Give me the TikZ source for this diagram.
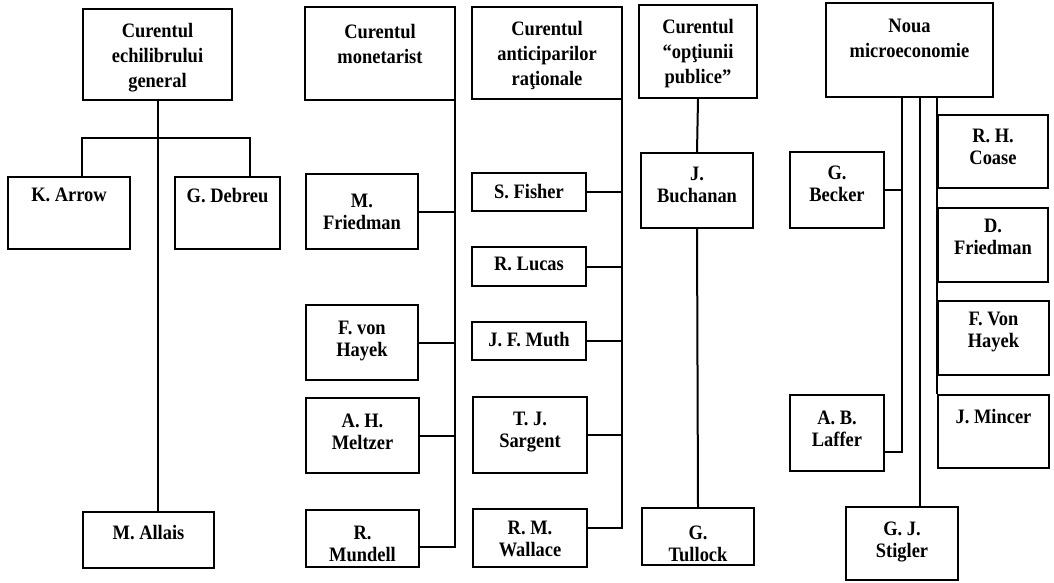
\documentclass[tikz,border=0pt]{standalone}
\usepackage{fontspec}
\newfontfamily\boxfont[FakeStretch=0.9]{Liberation Serif}
\usetikzlibrary{calc}
\tikzset{
  box/.style={draw, line width=1.8pt, inner sep=0pt, fill=white},
  txt/.style={anchor=north, align=center, inner sep=0pt},
  namefont/.style={font=\boxfont\bfseries\fontsize{20.5}{22}\selectfont},
  headfont/.style={font=\boxfont\bfseries\fontsize{20.5}{25}\selectfont},
  conn/.style={draw, line width=2pt},
}
% #1 pad, #2 name, #3 x1, #4 y1, #5 x2, #6 y2, #7 text, #8 font style
\newcommand\bx[8][12]{%
  \node[box, minimum width={(#5-#3)*1pt}, minimum height={(#6-#4)*1pt},
    label={[txt, #8, yshift={-#1pt}]north:#7}] (#2) at ({(#3+#5)/2},{(#4+#6)/2}) {};}
\begin{document}
\begin{tikzpicture}[x=1pt,y=-1pt]
\fill[white] (0,0) rectangle (1054,582);
\useasboundingbox (0,0) rectangle (1054,582);

% column 1
\bx[15]{h1}{83}{9}{232}{100}{Curentul\\echilibrului\\general}{headfont}
\bx[12]{arrow}{8}{177}{130}{249}{K. Arrow}{namefont}
\bx[12]{debreu}{175}{177}{280}{249}{G. Debreu}{namefont}
\bx[14]{allais}{83}{512}{214}{568}{M. Allais}{namefont}
\coordinate (j1) at (250,138);
\path[conn] (h1.south) -- (h1.south |- allais.north);
\path[conn] (arrow.north -| h1.west) |- (j1) -- (j1 |- debreu.north);

% column 2
\bx[18]{h2}{305}{7}{455}{100}{Curentul\\monetarist}{headfont}
\bx[21]{mfriedman}{306}{174}{418}{249}{M.\\Friedman}{namefont}
\bx[17]{fhayek}{306}{305}{418}{380}{F. von\\Hayek}{namefont}
\bx[17]{meltzer}{306}{398}{419}{473}{A. H.\\Meltzer}{namefont}
\bx[17]{mundell}{306}{510}{419}{567}{R.\\Mundell}{namefont}
\coordinate (mu) at ($(mundell.north east)!0.65!(mundell.south east)$);
\path[conn] ([xshift=-1pt]h2.south east) |- (mu);
\path[conn] (mfriedman.east) -- ([xshift=-1pt]mfriedman.east -| h2.east);
\path[conn] (fhayek.east) -- ([xshift=-1pt]fhayek.east -| h2.east);
\path[conn] (meltzer.east) -- ([xshift=-1pt]meltzer.east -| h2.east);

% column 3
\bx[15]{h3}{472}{7}{622}{99}{Curentul\\anticiparilor\\raţionale}{headfont}
\bx[12]{fisher}{472}{173}{586}{211}{S. Fisher}{namefont}
\bx[11]{lucas}{472}{247}{586}{286}{R. Lucas}{namefont}
\bx[11]{muth}{472}{322}{586}{360}{J. F. Muth}{namefont}
\bx[16]{sargent}{473}{397}{587}{473}{T. J.\\Sargent}{namefont}
\bx[13]{wallace}{473}{509}{587}{567}{R. M.\\Wallace}{namefont}
\coordinate (wa) at ($(wallace.north east)!0.33!(wallace.south east)$);
\path[conn] ([xshift=-1pt]h3.south east) |- (wa);
\path[conn] (fisher.east) -- ([xshift=-1pt]fisher.east -| h3.east);
\path[conn] (lucas.east) -- ([xshift=-1pt]lucas.east -| h3.east);
\path[conn] (muth.east) -- ([xshift=-1pt]muth.east -| h3.east);
\path[conn] (sargent.east) -- ([xshift=-1pt]sargent.east -| h3.east);

% column 4
\bx[15]{h4}{639}{5}{757}{98}{Curentul\\“opţiunii\\publice”}{headfont}
\bx[15]{buchanan}{641}{153}{753}{228}{J.\\Buchanan}{namefont}
\bx[19]{tullock}{642}{508}{754}{565}{G.\\Tullock}{namefont}
\path[conn] (h4.south) -- (buchanan.north);
\path[conn] (buchanan.south) -- (tullock.north);

% column 5
\bx[17]{h5}{826}{3}{993}{97}{Noua\\microeconomie}{headfont}
\bx[15]{coase}{938}{115}{1048}{188}{R. H.\\Coase}{namefont}
\bx[12]{dfriedman}{938}{208}{1048}{282}{D.\\Friedman}{namefont}
\bx[12]{vhayek}{938}{301}{1049}{375}{F. Von\\Hayek}{namefont}
\bx[15]{mincer}{938}{395}{1049}{468}{J. Mincer}{namefont}
\bx[15]{becker}{790}{152}{884}{228}{G.\\Becker}{namefont}
\bx[17]{laffer}{790}{395}{884}{471}{A. B.\\Laffer}{namefont}
\bx[16]{stigler}{846}{507}{958}{580}{G. J.\\Stigler}{namefont}
\coordinate (c5a) at (902,97);
\coordinate (c5b) at (920,97);
\coordinate (la) at ($(laffer.north east)!0.74!(laffer.south east)$);
\path[conn] (c5a) |- (la);
\path[conn] (becker.east) -- (becker.east -| c5a);
\path[conn] (c5b) -- (c5b |- stigler.north);
\path[conn] (coase.west |- h5.south) -- (mincer.north west);
\end{tikzpicture}
\end{document}
